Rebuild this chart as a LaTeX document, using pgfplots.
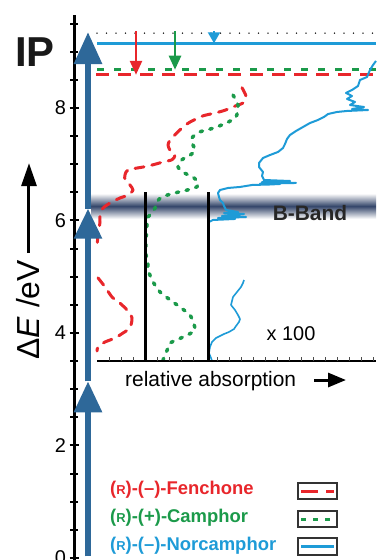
\documentclass[border=0pt]{standalone}
\usepackage{pgfplots}
\pgfplotsset{compat=1.18}
\usepackage{fontspec}
\setmainfont{Liberation Sans}
\usetikzlibrary{arrows.meta}
\definecolor{fred}{HTML}{E8262B}
\definecolor{fgreen}{HTML}{1B9A4A}
\definecolor{fblue}{HTML}{1E9BD7}
\definecolor{arrowblue}{HTML}{2E6899}
\definecolor{bandc}{HTML}{34466A}
\begin{document}
\begin{tikzpicture}[x=1bp,y=1bp]
\begin{axis}[
  at={(74bp,0bp)}, anchor=south west,
  scale only axis, width=302bp, height=545bp,
  xmin=74, xmax=376, ymin=-0.0356, ymax=9.6533,
  clip=false,
  axis y line=left, axis x line=none,
  axis line style={-},
  y axis line style={line width=3bp},
  ytick={0,2,4,6,8},
  minor ytick={0.5,1,1.5,2.5,3,3.5,4.5,5,5.5,6.5,7,7.5,8.5,9,9.5},
  tick align=center,
  major tick length=9bp, minor tick length=8bp,
  every tick/.style={black, line width=2bp},
  /pgf/number format/assume math mode=true,
  yticklabel style={font=\fontsize{20}{20}\selectfont},
]
% B-band
\shade[top color=white, bottom color=white, middle color=bandc] (axis cs:91,6.03) rectangle (axis cs:376,6.48);
% IP lines
\addplot[black, line width=1.6bp, line cap=round, dash pattern=on 0bp off 9.5bp] coordinates {(97,9.33) (376,9.33)};
\addplot[fblue, line width=3bp] coordinates {(97,9.15) (376,9.15)};
\addplot[fgreen, line width=3bp, dash pattern=on 7bp off 10bp] coordinates {(97,8.68) (376,8.68)};
\addplot[fred, line width=3bp, dash pattern=on 13bp off 9bp] coordinates {(96,8.59) (376,8.59)};
% small arrows
\addplot[fred, line width=2.5bp, -{Triangle[length=14bp,width=12bp]}] coordinates {(136,9.36) (136,8.59)};
\addplot[fgreen, line width=2.5bp, -{Triangle[length=14bp,width=12bp]}] coordinates {(175,9.36) (175,8.68)};
\addplot[fblue, line width=2bp, -{Triangle[length=11bp,width=12bp]}] coordinates {(214,9.36) (214,9.15)};
% Fenchone
\addplot[fred, line width=3bp, line cap=round, line join=round, dash pattern=on 9bp off 8bp, smooth, tension=0.4] coordinates {
(242,8.36) (246,8.21) (243,8.09) (236,8.04) (225,7.96) (215,7.91) (203,7.86) (190,7.75) (183,7.66) (177,7.56) (170,7.43) (168,7.34) (170,7.25) (175,7.16) (172,7.08) (163,7.04) (153,6.99) (143,6.95) (128,6.90) (125,6.81) (125,6.72) (130,6.63) (133,6.54) (128,6.45) (120,6.40) (110,6.31) (103,6.22) (100,6.10) (100,5.97) (98,5.74) (97,5.53)};
\addplot[fred, line width=3bp, line cap=round, line join=round, dash pattern=on 9bp off 8bp, smooth, tension=0.4] coordinates {
(98,4.98) (105,4.82) (112,4.64) (120,4.53) (127,4.41) (132,4.27) (130,4.09) (123,4.00) (115,3.91) (105,3.84) (98,3.75) (97,3.68)};
% Camphor
\addplot[fgreen, line width=3.5bp, line cap=round, line join=round, dash pattern=on 2.5bp off 7.5bp, smooth, tension=0.4] coordinates {
(233,8.23) (238,8.05) (236,7.84) (226,7.73) (213,7.64) (199,7.57) (192,7.47) (192,7.38) (195,7.25) (190,7.16) (182,7.08) (178,6.95) (185,6.84) (193,6.77) (198,6.68) (197,6.60) (187,6.54) (175,6.49) (162,6.42) (157,6.33) (155,6.22) (150,6.10) (147,6.04) (147,5.92) (146,5.65) (146,5.39) (148,5.26) (148,5.12) (153,4.91) (160,4.73) (170,4.59) (180,4.46) (190,4.32) (193,4.20) (195,4.05) (187,3.96) (177,3.88) (170,3.82) (168,3.73) (165,3.61) (163,3.52)};
% Norcamphor
\addplot[fblue, line width=2bp, line join=round] coordinates {
(209,5.973) (213,6.009) (235,6.027) (218,6.044) (246,6.062) (222,6.080) (244,6.116) (224,6.133) (238,6.151) (226,6.187) (224,6.258) (223,6.311) (220,6.364) (219,6.418) (218,6.489) (220,6.542) (228,6.578) (240,6.596) (252,6.631) (270,6.640) (280,6.649) (260,6.655) (296,6.667) (262,6.684) (290,6.702) (264,6.720) (262,6.791) (263,6.862) (259,6.951) (259,7.022) (263,7.111) (270,7.164) (278,7.218) (283,7.289) (285,7.360) (287,7.449) (290,7.520) (296,7.591) (303,7.662) (310,7.733) (318,7.787) (324,7.840) (328,7.893) (337,7.929) (347,7.947) (368,7.964) (352,7.982) (364,8.018) (350,8.053) (355,8.107) (347,8.160) (352,8.213) (346,8.267) (352,8.320) (358,8.391) (360,8.498) (367,8.551) (370,8.676) (373,8.764) (376,8.836)};
\addplot[fblue, line width=1.6bp, line join=round] coordinates {
(244,4.942) (243,4.889) (241,4.818) (237,4.729) (233,4.640) (232,4.569) (231,4.498) (235,4.409) (238,4.320) (240,4.249) (239,4.196) (236,4.124) (234,4.071) (229,4.018) (224,3.982) (216,3.911) (212,3.840) (210,3.751) (209,3.644) (211,3.556) (212,3.502)};
% baselines
\addplot[black, line width=3bp] coordinates {(145,3.50) (145,6.51)};
\addplot[black, line width=3bp] coordinates {(208,3.50) (208,6.51)};
% inner axis
\draw[line width=2bp] (axis cs:97,3.50) -- (axis cs:376,3.50);
\pgfplotsinvokeforeach{109,121,133,157,169,181,193,217,229,241,253,265,277,289,301,313,325,337,349,361,373}{
  \draw[line width=0.8bp, black!70] (axis cs:#1,3.50) -- (axis cs:#1,3.575);
}
% photon arrows
\addplot[arrowblue, line width=6bp, -{Triangle[length=31bp,width=27bp]}] coordinates {(88,0.03) (88,3.14)};
\addplot[arrowblue, line width=6bp, -{Triangle[length=30bp,width=27bp]}] coordinates {(88,3.14) (88,6.21)};
\addplot[arrowblue, line width=6bp, -{Triangle[length=32bp,width=27bp]}] coordinates {(88,6.21) (88,9.35)};
% texts
\node[font=\fontsize{42}{42}\selectfont\bfseries, text=black!90] at (axis cs:35,9.0) {IP};
\node[rotate=90, font=\fontsize{32}{32}\selectfont] at (axis cs:28.5,4.41) {Δ\textit{E} /eV};
\draw[line width=3bp, -{Triangle[length=23bp,width=15bp]}] (axis cs:29,5.42) -- (axis cs:29,7.02);
\node[font=\fontsize{21}{21}\selectfont\bfseries, text=black!85] at (axis cs:310,6.133) {B-Band};
\node[font=\fontsize{20}{20}\selectfont] at (axis cs:291,3.982) {x 100};
\node[anchor=base west, inner sep=0pt, font=\fontsize{21}{21}\selectfont] at (axis cs:125,3.04) {relative absorption};
\draw[line width=3bp, -{Triangle[length=18bp,width=14bp]}] (axis cs:314,3.164) -- (axis cs:346,3.164);
% legend
\node[anchor=west, inner sep=0pt, text=fred, font=\fontsize{18.5}{18.5}\selectfont\bfseries] at (axis cs:110,1.209) {({\fontsize{13}{13}\selectfont R})-(–)-Fenchone};
\node[anchor=west, inner sep=0pt, text=fgreen, font=\fontsize{18.5}{18.5}\selectfont\bfseries] at (axis cs:110,0.711) {({\fontsize{13}{13}\selectfont R})-(+)-Camphor};
\node[anchor=west, inner sep=0pt, text=fblue, font=\fontsize{18.5}{18.5}\selectfont\bfseries] at (axis cs:110,0.213) {({\fontsize{13}{13}\selectfont R})-(–)-Norcamphor};
\draw[line width=1.5bp, black!80] (axis cs:298,1.049) rectangle (axis cs:337,1.333);
\draw[line width=1.5bp, black!80] (axis cs:298,0.551) rectangle (axis cs:337,0.836);
\draw[line width=1.5bp, black!80] (axis cs:298,0.053) rectangle (axis cs:337,0.356);
\draw[fred, line width=3bp, dash pattern=on 17bp off 8bp] (axis cs:301,1.191) -- (axis cs:334,1.191);
\draw[fgreen, line width=3bp, dash pattern=on 5bp off 7bp] (axis cs:301,0.693) -- (axis cs:334,0.693);
\draw[fblue, line width=3bp] (axis cs:301,0.196) -- (axis cs:334,0.196);
\end{axis}
\pgfresetboundingbox
\path (0,0) rectangle (376,560);
\end{tikzpicture}
\end{document}
